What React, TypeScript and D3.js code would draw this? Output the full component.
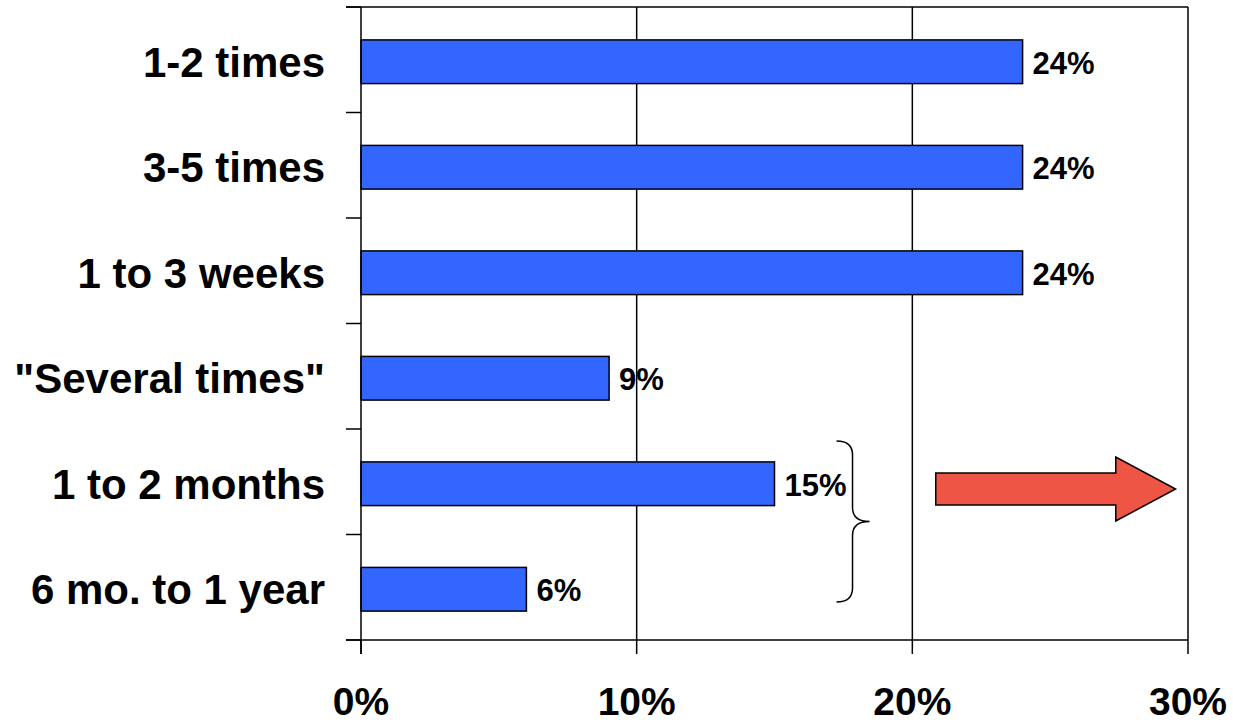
import React from "react";
import * as d3 from "d3";

// Share of respondents by how often / how long
const categories = [
  "1-2 times",
  "3-5 times",
  "1 to 3 weeks",
  "\"Several times\"",
  "1 to 2 months",
  "6 mo. to 1 year",
];
const values = [0.24, 0.24, 0.24, 0.09, 0.15, 0.06];
const xTicks = [0, 0.1, 0.2, 0.3];

const W = 1233;
const H = 724;
const FONT = "'Liberation Sans', Arial, Helvetica, sans-serif";

export default function App() {
  const left = 361;
  const right = 1188;
  const top = 7;
  const bottom = 640;

  const x = d3.scaleLinear().domain([0, 0.3]).range([left, right]);
  const y = d3.scaleBand<string>().domain(categories).range([top, bottom]).padding(0);
  const bw = y.bandwidth();
  const barH = bw * 0.414;
  const barY = (c: string) => (y(c) as number) + (bw - barH) / 2 + 2;
  const barMid = (c: string) => barY(c) + barH / 2;
  const pct = d3.format(".0%");

  // band boundaries for the category-axis tick marks
  const boundaries = categories.map((c) => y(c) as number).concat([bottom]);

  // brace grouping the last two categories
  const bTop = (y(categories[4]) as number) + 12;
  const bBot = (y(categories[5]) as number) + bw - 38;
  const bMid = (bTop + bBot) / 2;
  const bx0 = x(0.1725);
  const bx1 = bx0 + 16;
  const bTip = bx0 + 33;
  const r = 14;
  const brace = [
    `M${bx0},${bTop}`,
    `Q${bx1},${bTop} ${bx1},${bTop + r}`,
    `L${bx1},${bMid - r}`,
    `Q${bx1},${bMid} ${bTip},${bMid}`,
    `Q${bx1},${bMid} ${bx1},${bMid + r}`,
    `L${bx1},${bBot - r}`,
    `Q${bx1},${bBot} ${bx0},${bBot}`,
  ].join(" ");

  // right-pointing block arrow
  const aMid = bMid - 32.5;
  const ax0 = x(0.2085);
  const axHead = x(0.2738);
  const axTip = x(0.2955);
  const shaftHalf = 16;
  const headHalf = 32;
  const arrow = [
    [ax0, aMid - shaftHalf],
    [axHead, aMid - shaftHalf],
    [axHead, aMid - headHalf],
    [axTip, aMid],
    [axHead, aMid + headHalf],
    [axHead, aMid + shaftHalf],
    [ax0, aMid + shaftHalf],
  ];

  return (
    <svg
      width={W}
      height={H}
      style={{ position: "absolute", left: 0, top: 0, background: "#fff" }}
      fontFamily={FONT}
    >
      {/* gridlines */}
      {xTicks.slice(1).map((t) => (
        <line key={t} x1={x(t)} x2={x(t)} y1={top} y2={bottom} stroke="#000" strokeWidth={1.5} />
      ))}
      {/* top border */}
      <line x1={left - 15} x2={right} y1={top} y2={top} stroke="#000" strokeWidth={1.5} />

      {/* bars */}
      {categories.map((c, i) => (
        <rect
          key={c}
          x={x(0)}
          y={barY(c)}
          width={x(values[i]) - x(0)}
          height={barH}
          fill="#3366FF"
          stroke="#000"
          strokeWidth={1.5}
        />
      ))}

      {/* value labels */}
      {categories.map((c, i) => (
        <text
          key={c}
          x={x(values[i]) + 10}
          y={barMid(c) + 12}
          fontSize={31}
          fontWeight="bold"
          fill="#000"
        >
          {pct(values[i])}
        </text>
      ))}

      {/* category axis */}
      <line x1={left} x2={left} y1={top} y2={bottom + 14} stroke="#000" strokeWidth={1.5} />
      {boundaries.map((b, i) => (
        <line key={i} x1={left - 15} x2={left} y1={b} y2={b} stroke="#000" strokeWidth={1.5} />
      ))}
      {categories.map((c) => (
        <text
          key={c}
          x={left - 36}
          y={barMid(c) + 15}
          textAnchor="end"
          fontSize={42}
          fontWeight="bold"
          fill="#000"
        >
          {c}
        </text>
      ))}

      {/* value axis */}
      <line x1={left - 15} x2={right} y1={bottom} y2={bottom} stroke="#000" strokeWidth={1.5} />
      {xTicks.map((t) => (
        <g key={t}>
          <line x1={x(t)} x2={x(t)} y1={bottom} y2={bottom + 14} stroke="#000" strokeWidth={1.5} />
          <text
            x={x(t)}
            y={715}
            textAnchor="middle"
            fontSize={39}
            fontWeight="bold"
            fill="#000"
          >
            {pct(t)}
          </text>
        </g>
      ))}

      {/* annotation: brace and arrow */}
      <path d={brace} fill="none" stroke="#000" strokeWidth={1.5} />
      <polygon
        points={arrow.map((p) => p.join(",")).join(" ")}
        fill="#EE5544"
        stroke="#000"
        strokeWidth={1.5}
      />
    </svg>
  );
}
